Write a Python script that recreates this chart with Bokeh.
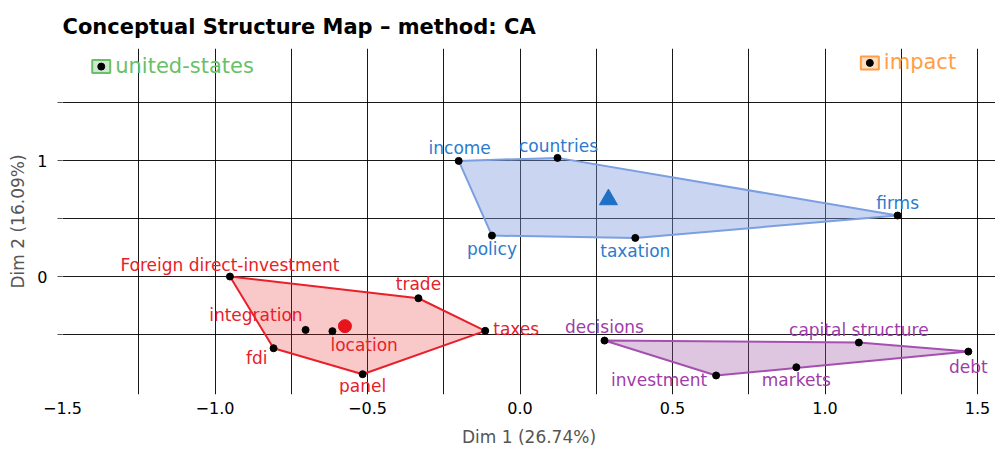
from bokeh.plotting import figure
from bokeh.models import Range1d, FixedTicker, ColumnDataSource, LabelSet
from bokeh.embed import file_html
from bokeh.resources import INLINE
from bokeh.core.properties import value

# ---------------- data ----------------
words = ["income", "countries", "firms", "taxation", "policy",
         "Foreign direct-investment", "trade", "taxes", "panel", "fdi",
         "integration", "location",
         "decisions", "capital structure", "debt", "markets", "investment"]
dim1 = [-0.201, 0.123, 1.238, 0.378, -0.092,
        -0.951, -0.333, -0.114, -0.516, -0.808, -0.703, -0.615,
        0.277, 1.111, 1.470, 0.906, 0.643]
dim2 = [0.997, 1.023, 0.526, 0.333, 0.353,
        0.000, -0.187, -0.468, -0.842, -0.618, -0.460, -0.471,
        -0.552, -0.569, -0.647, -0.782, -0.853]
cluster = [1, 1, 1, 1, 1,
           2, 2, 2, 2, 2, 2, 2,
           3, 3, 3, 3, 3]

single_words = ["united-states", "impact"]
single_dim1 = [-1.373, 1.147]
single_dim2 = [1.810, 1.842]

centroid_blue = (0.290, 0.664)
centroid_red = (-0.574, -0.428)

x_ticks = [-1.5, -1.0, -0.5, 0.0, 0.5, 1.0, 1.5]
x_tick_labels = ["\u22121.5", "\u22121.0", "\u22120.5", "0.0", "0.5", "1.0", "1.5"]
x_minor = [-1.25, -0.75, -0.25, 0.25, 0.75, 1.25]
y_ticks = [-0.5, 0.0, 0.5, 1.0, 1.5]
y_tick_labels = ["", "0", "", "1", ""]

title = "Conceptual Structure Map \u2013 method: CA"
xlab = "Dim 1 (26.74%)"
ylab = "Dim 2 (16.09%)"

# ---------------- styles ----------------
FONT = "DejaVu Sans"
text_col = {1: "#2b7bce", 2: "#e8202a", 3: "#a03ca8"}
fill_col = {1: "#7b97dc", 2: "#e41a1c", 3: "#984ea3"}
fill_alpha = {1: 0.40, 2: 0.24, 3: 0.32}
line_col = {1: "#7b9fe0", 2: "#e8202a", 3: "#a550b0"}
single_text_col = ["#6abf69", "#ff9e44"]
single_fill = ["#cfe9ce", "#fde0c4"]

lab_align = ["center", "center", "center", "center", "center",
             "center", "center", "left", "center", "right", "right", "left",
             "center", "center", "center", "center", "right"]
lab_dx = [1, 1, 0, 0, 0,
          0, 0, 8, 0, -6, -3, -2,
          0, 0, 0, 0, -9]
lab_dy = [-13, -12, -13, 13, 13,
          -12, -14, -2, 12, 10, -15, 14,
          -14, -13, 15, 13, 5]


def hull(pts):
    pts = sorted(set(pts))
    if len(pts) < 3:
        return pts

    def cross(o, a, b):
        return (a[0] - o[0]) * (b[1] - o[1]) - (a[1] - o[1]) * (b[0] - o[0])
    lower, upper = [], []
    for p_ in pts:
        while len(lower) >= 2 and cross(lower[-2], lower[-1], p_) <= 0:
            lower.pop()
        lower.append(p_)
    for p_ in reversed(pts):
        while len(upper) >= 2 and cross(upper[-2], upper[-1], p_) <= 0:
            upper.pop()
        upper.append(p_)
    return lower[:-1] + upper[:-1]


p = figure(frame_width=933, frame_height=346,
           x_range=Range1d(-1.5, 1.559), y_range=Range1d(-1.017, 1.966),
           output_backend="svg", toolbar_location=None,
           min_border_left=62, min_border_right=0, min_border_top=48,
           min_border_bottom=0)
p.outline_line_color = None
p.background_fill_color = "white"

# title
p.title.text = title
p.title.text_font = FONT
p.title.text_font_size = "21px"
p.title.text_font_style = "bold"
p.title.text_color = "black"
p.title.align = "left"
p.title.vertical_align = "top"
p.title.standoff = 15

# axes / grid
p.xaxis.ticker = FixedTicker(ticks=x_ticks, minor_ticks=x_minor)
p.xaxis.major_label_overrides = {t: l for t, l in zip(x_ticks, x_tick_labels)}
p.yaxis.ticker = FixedTicker(ticks=y_ticks)
p.yaxis.major_label_overrides = {t: l for t, l in zip(y_ticks, y_tick_labels)}
p.xgrid.ticker = FixedTicker(ticks=x_ticks, minor_ticks=x_minor)
p.ygrid.ticker = FixedTicker(ticks=y_ticks)
for g in (p.xgrid, p.ygrid):
    g.grid_line_color = "black"
    g.grid_line_width = 1
    g.grid_line_alpha = 0.9
p.xgrid.minor_grid_line_color = "black"
p.xgrid.minor_grid_line_alpha = 0.9

for ax in (p.xaxis, p.yaxis):
    ax.axis_line_color = None
    ax.minor_tick_line_color = None
    ax.major_label_text_font = FONT
    ax.major_label_text_font_size = "16px"
    ax.major_label_text_color = "black"
    ax.axis_label_text_font = FONT
    ax.axis_label_text_font_size = "17px"
    ax.axis_label_text_font_style = "normal"
    ax.axis_label_text_color = "#555555"
p.xaxis.major_tick_line_color = None
p.xaxis.major_label_standoff = 1
p.xaxis.axis_label_standoff = 10
p.yaxis.major_tick_line_color = "#555555"
p.yaxis.major_tick_out = 5
p.yaxis.major_tick_in = 0
p.yaxis.major_label_standoff = 10
p.yaxis.axis_label_standoff = 6
p.xaxis.axis_label = xlab
p.yaxis.axis_label = ylab

# cluster hulls
for c in (1, 2, 3):
    pts = [(x, y) for x, y, k in zip(dim1, dim2, cluster) if k == c]
    h = hull(pts)
    p.patch([q[0] for q in h], [q[1] for q in h],
            fill_color=fill_col[c], fill_alpha=fill_alpha[c],
            line_color=line_col[c], line_width=2)

# centroids
p.scatter([centroid_blue[0]], [centroid_blue[1]], marker="triangle", size=18,
          fill_color="#1f6fc5", line_color="#1f6fc5")
p.scatter([centroid_red[0]], [centroid_red[1]], marker="circle", size=13,
          fill_color="#e8141c", line_color="#e8141c")

# points
src = ColumnDataSource(dict(
    x=dim1, y=dim2, w=words,
    col=[text_col[k] for k in cluster],
    align=lab_align, dx=lab_dx, dy=[-d for d in lab_dy]))
p.scatter("x", "y", source=src, size=7, fill_color="black", line_color="black")
p.add_layout(LabelSet(x="x", y="y", text="w", source=src, text_color="col",
                      text_align="align", text_baseline="middle",
                      x_offset="dx", y_offset="dy",
                      text_font=value(FONT), text_font_size="17px"))

# single-word clusters
ssrc = ColumnDataSource(dict(x=single_dim1, y=single_dim2, w=single_words,
                             col=single_text_col, fill=single_fill))
p.rect("x", "y", width=18, height=13, width_units="screen", height_units="screen",
       source=ssrc, fill_color="fill", line_color="col", line_width=2)
p.scatter("x", "y", source=ssrc, size=7, fill_color="black", line_color="black")
p.text("x", "y", text="w", source=ssrc, text_color="col", text_align="left",
       text_baseline="middle", x_offset=14, y_offset=-1,
       text_font=value(FONT), text_font_size="21px")

open("out.html", "w").write(file_html(p, INLINE))
